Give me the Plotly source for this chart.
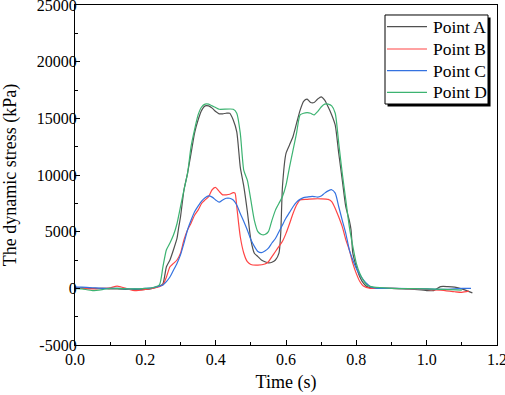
import plotly.graph_objects as go

# Time axis samples (s)
t_base = [0.0, 0.02, 0.05, 0.08, 0.10, 0.12, 0.15, 0.17, 0.20, 0.22, 0.24]

# ---- Point A ----
tA = t_base + [0.25, 0.26, 0.27, 0.28, 0.29, 0.295, 0.30, 0.31, 0.32, 0.33, 0.34, 0.35, 0.36, 0.37, 0.38,
               0.39, 0.40, 0.41, 0.42, 0.43, 0.44, 0.45, 0.46, 0.47, 0.48, 0.49, 0.50, 0.51, 0.52,
               0.53, 0.54, 0.55, 0.56, 0.57, 0.58, 0.585, 0.59, 0.60, 0.61, 0.62, 0.63, 0.64, 0.65,
               0.66, 0.67, 0.68, 0.69, 0.70, 0.71, 0.72, 0.73, 0.74, 0.75, 0.76, 0.77, 0.78, 0.785,
               0.79, 0.80, 0.81, 0.82, 0.83, 0.85, 0.90, 0.95, 1.00, 1.02, 1.04, 1.06, 1.08, 1.10, 1.13]
vA = [0, 50, 0, 0, -50, -50, -100, -100, -100, 0, 200,
      400, 1900, 2500, 3400, 4400, 5400, 6300, 8700, 10150, 11900, 13700, 14850, 15700, 16100, 16100,
      15900, 15600, 15400, 15400, 15450, 15450, 14850, 13800, 10700, 9000, 6800, 4300, 3100, 2800,
      2500, 2350, 2250, 2300, 2500, 3100, 4850, 9000, 11900, 12650, 13400, 14550, 15700, 16500,
      16700, 16400, 16400, 16700, 16900, 16600, 16000, 15300, 14400, 11900, 9550, 7200, 6000, 5150,
      3100, 1900, 1000, 450, 150, 0, 0, -50, -200, -200, 150, 150, 100, -50, -400]

# ---- Point B ----
tB = t_base + [0.25, 0.26, 0.27, 0.28, 0.29, 0.30, 0.31, 0.32, 0.33, 0.34, 0.35, 0.36, 0.37, 0.38,
               0.39, 0.40, 0.41, 0.42, 0.43, 0.44, 0.45, 0.455, 0.46, 0.47, 0.48, 0.49, 0.50, 0.52,
               0.54, 0.55, 0.56, 0.57, 0.58, 0.59, 0.60, 0.61, 0.62, 0.63, 0.64, 0.66, 0.68, 0.70,
               0.72, 0.73, 0.74, 0.75, 0.76, 0.77, 0.78, 0.79, 0.80, 0.81, 0.82, 0.84, 0.90, 0.95,
               1.00, 1.04, 1.08, 1.10, 1.12]
vB = [0, 0, -50, 0, 50, 200, -50, -200, -100, 0, 150,
      300, 1000, 1900, 2200, 2500, 3100, 4300, 5150, 5750, 6450, 6900, 7500, 7800, 8100,
      8700, 8900, 8550, 8250, 8250, 8300, 8450, 8400, 7200, 4550, 3100, 2350, 2100, 2050,
      2150, 2350, 2800, 3250, 3700, 4150, 4850, 5700, 6600, 7350, 7800, 7850, 7900, 7900,
      7850, 7650, 7050, 6300, 5450, 4300, 3400, 2200, 1300, 600, 200, 0, 0, -50,
      -100, -150, -300, -350, -250]

# ---- Point C ----
tC = t_base + [0.25, 0.26, 0.27, 0.28, 0.29, 0.30, 0.31, 0.32, 0.33, 0.34, 0.35, 0.36, 0.37, 0.38,
               0.39, 0.40, 0.41, 0.42, 0.43, 0.44, 0.45, 0.46, 0.47, 0.48, 0.49, 0.50, 0.51, 0.52,
               0.53, 0.54, 0.55, 0.56, 0.57, 0.58, 0.59, 0.60, 0.61, 0.62, 0.63, 0.64, 0.65, 0.66,
               0.67, 0.68, 0.69, 0.70, 0.71, 0.72, 0.73, 0.74, 0.75, 0.76, 0.77, 0.78, 0.79, 0.80,
               0.81, 0.82, 0.83, 0.84, 0.86, 0.90, 1.00, 1.05, 1.10, 1.126]
vC = [100, 100, 50, 0, 0, 0, -50, -50, 0, 50, 200,
      300, 600, 1000, 1600, 2200, 2950, 4000, 5150, 6000, 6750, 7250, 7700, 8000, 8150,
      8050, 7800, 7600, 7800, 7950, 7950, 7800, 7350, 6600, 5900, 5150, 4300, 3700, 3250,
      3150, 3300, 3550, 4000, 4400, 5000, 5600, 6200, 6700, 7200, 7600, 7850, 8000, 8050,
      8100, 8100, 8050, 8150, 8400, 8600, 8700, 8400, 7200, 6000, 4850, 3400, 2500, 1750,
      1200, 750, 400, 150, 0, 0, -50, -100, 0, 0]

# ---- Point D ----
tD = t_base + [0.25, 0.26, 0.27, 0.28, 0.29, 0.30, 0.31, 0.32, 0.33, 0.34, 0.35, 0.36, 0.37, 0.38,
               0.39, 0.40, 0.41, 0.45, 0.46, 0.47, 0.48, 0.49, 0.50, 0.51, 0.52, 0.53, 0.54, 0.55,
               0.56, 0.57, 0.58, 0.59, 0.60, 0.61, 0.62, 0.63, 0.64, 0.65, 0.66, 0.67, 0.68, 0.69,
               0.70, 0.71, 0.72, 0.73, 0.74, 0.75, 0.76, 0.77, 0.78, 0.79, 0.80, 0.81, 0.82, 0.83,
               0.85, 0.90, 1.00, 1.05, 1.10]
vD = [0, -50, -200, -100, 0, 0, -50, -50, 0, 50, 300,
      1900, 3400, 4000, 4700, 5700, 7200, 8700, 10150, 12500, 14000, 15300, 16000, 16250, 16250,
      16100, 15950, 15800, 15800, 15450, 13700, 10400, 9550, 7800, 6000, 5000, 4750, 4750, 5000,
      6000, 6900, 7500, 8100, 9100, 10700, 12200, 13700, 15300, 15450, 15500, 15450, 15300, 15600,
      16000, 16250, 16250, 16100, 15450, 12800, 10150, 7800, 5450, 3700, 2200, 1300, 700, 300,
      100, 0, -50, -100, -150]

names = ["Point A", "Point B", "Point C", "Point D"]
colors = ["#505050", "#ff4545", "#3472e0", "#3cb371"]
series = [(tA, vA), (tB, vB), (tC, vC), (tD, vD)]

x_ticks = [0.0, 0.2, 0.4, 0.6, 0.8, 1.0, 1.2]
x_tick_labels = ["0.0", "0.2", "0.4", "0.6", "0.8", "1.0", "1.2"]
y_ticks = [-5000, 0, 5000, 10000, 15000, 20000, 25000]
y_tick_labels = ["-5000", "0", "5000", "10000", "15000", "20000", "25000"]

FONT = "Liberation Serif"

fig = go.Figure()
for (t, v), n, c in zip(series, names, colors):
    fig.add_trace(go.Scatter(x=t, y=v, mode="lines", name=n, showlegend=False,
                             line=dict(color=c, width=1.2, shape="spline", smoothing=0.6)))

axis_common = dict(showline=True, linecolor="black", linewidth=1.3, mirror=True,
                   ticks="inside", ticklen=5, tickwidth=1.2, tickcolor="black",
                   showgrid=False, zeroline=False, automargin=False,
                   ticklabeloverflow="allow",
                   tickfont=dict(family=FONT, size=16, color="black"))

fig.update_xaxes(range=[0, 1.2], tickvals=x_ticks, ticktext=x_tick_labels,
                 minor=dict(ticks="inside", ticklen=3, dtick=0.1, tickcolor="black", tickwidth=1),
                 title=dict(text="Time (s)", font=dict(family=FONT, size=18, color="black"), standoff=8),
                 **axis_common)
fig.update_yaxes(range=[-5000, 25000], tickvals=y_ticks, ticktext=y_tick_labels,
                 ticklabelstandoff=-6,
                 minor=dict(ticks="inside", ticklen=3, dtick=2500, tickcolor="black", tickwidth=1),
                 title=dict(text="The dynamic stress (kPa)", font=dict(family=FONT, size=18, color="black"), standoff=16),
                 **axis_common)

# ---- legend box (drawn with shapes + text, paper coordinates) ----
box_x0, box_x1, box_y0, box_y1 = 0.7346, 0.9787, 0.7088, 0.9706
fig.add_shape(type="rect", xref="paper", yref="paper",
              x0=box_x0 + 0.006, x1=box_x1 + 0.006, y0=box_y0 - 0.0075, y1=box_y1 - 0.0075,
              fillcolor="black", line=dict(width=0), layer="above")
fig.add_shape(type="rect", xref="paper", yref="paper",
              x0=box_x0, x1=box_x1, y0=box_y0, y1=box_y1,
              fillcolor="white", line=dict(color="black", width=1), layer="above")
entry_y = [0.9362, 0.8706, 0.8068, 0.7432]
for n, c, yy in zip(names, colors, entry_y):
    fig.add_shape(type="line", xref="paper", yref="paper",
                  x0=0.7393, x1=0.8341, y0=yy, y1=yy,
                  line=dict(color=c, width=1.2), layer="above")
    fig.add_annotation(xref="paper", yref="paper", x=0.8436, y=yy,
                       xanchor="left", yanchor="middle", showarrow=False, text=n,
                       font=dict(family=FONT, size=17.5, color="black"))

fig.update_layout(
    width=505, height=395,
    margin=dict(l=75, r=8, t=5, b=50),
    paper_bgcolor="white", plot_bgcolor="white",
    font=dict(family=FONT, color="black"),
    showlegend=False,
)

fig.write_html("out.html", config={"displayModeBar": False},
               post_script="document.body.style.margin='0';")
